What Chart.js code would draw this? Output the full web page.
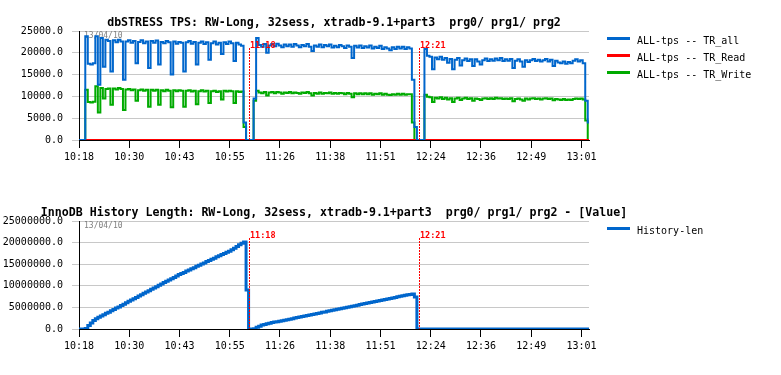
<!DOCTYPE html>
<html>
<head>
<meta charset="utf-8">
<script src="https://cdn.jsdelivr.net/npm/chart.js@4.4.1/dist/chart.umd.min.js"></script>
<style>
  body { margin: 0; background: #fff; }
  #wrap { position: relative; width: 781px; height: 375px; }
  canvas { position: absolute; left: 0; }
</style>
</head>
<body>
<div id="wrap">
  <canvas id="tps-chart" width="781" height="190" style="top:0"></canvas>
  <canvas id="hist-chart" width="781" height="185" style="top:190px"></canvas>
</div>
<script>
// x tick labels (time of day, idle periods cut out) and the sample index they sit on
const timeLabels = ['10:18', '10:30', '10:43', '10:55', '11:26', '11:38', '11:51', '12:24', '12:36', '12:49', '13:01'];
const tickIndex = [0, 20, 40, 60, 80, 100, 120, 140, 160, 180, 200];
const lastIndex = 203;

// red event markers (sample index)
const markerLabels = ['11:18', '12:21'];
const markerIndex = [67.8, 135.5];

const dateStamp = '13/04/10';

// ALL-tps -- TR_all
const tpsAll = [
    0, 0, 0, 23800, 17500, 17300, 17600, 23800, 12700, 23400,
    16800, 23000, 22700, 15700, 22900, 22400, 23000, 22600, 13800, 22600,
    22900, 22300, 22700, 17600, 22500, 22900, 22200, 22600, 16500, 22700,
    22300, 22800, 17300, 22500, 22200, 22700, 22400, 15000, 22600, 22100,
    22500, 22300, 15700, 22400, 22700, 22100, 22500, 17300, 22300, 22600,
    22000, 22400, 18400, 22200, 22600, 21900, 22300, 19700, 22400, 22000,
    22600, 22200, 18100, 22300, 21900, 21600, 4000, 0, 0, 0,
    9500, 23400, 21800, 21400, 22000, 20000, 21700, 22000, 21500, 22100,
    21700, 21300, 21900, 21500, 21900, 21400, 22000, 21700, 21300, 21800,
    21500, 22000, 21400, 20400, 21700, 21400, 21900, 21300, 21800, 21500,
    21900, 21200, 21600, 21300, 21800, 21500, 21100, 21700, 21400, 18800,
    21600, 21200, 21700, 21100, 21500, 21200, 21700, 21000, 21400, 21100,
    21600, 20900, 21300, 21000, 20600, 21300, 20900, 21400, 21000, 21400,
    20900, 21300, 21000, 13800, 3000, 0, 0, 0, 20900, 19300,
    19100, 16200, 18900, 18500, 19100, 18400, 18800, 17700, 18600, 16200,
    18400, 18800, 17100, 18300, 18700, 18100, 18500, 17000, 18500, 18000,
    17300, 18300, 18700, 18100, 18500, 18200, 18700, 18300, 18800, 18100,
    18500, 18200, 18600, 16500, 18200, 18500, 18000, 16800, 18300, 17900,
    18300, 18600, 18100, 18400, 18000, 18300, 18600, 18000, 18400, 17000,
    18200, 17800, 17600, 18000, 17500, 17900, 17600, 18200, 18500, 18000,
    18300, 17600, 9000, 4000
];

// ALL-tps -- TR_Read (stays at zero, hidden under TR_Write)
const tpsRead = [
    0, 0, 0, 0, 0, 0, 0, 0, 0, 0, 0, 0, 0, 0, 0, 0, 0, 0, 0, 0,
    0, 0, 0, 0, 0, 0, 0, 0, 0, 0, 0, 0, 0, 0, 0, 0, 0, 0, 0, 0,
    0, 0, 0, 0, 0, 0, 0, 0, 0, 0, 0, 0, 0, 0, 0, 0, 0, 0, 0, 0,
    0, 0, 0, 0, 0, 0, 0, 0, 0, 0, 0, 0, 0, 0, 0, 0, 0, 0, 0, 0,
    0, 0, 0, 0, 0, 0, 0, 0, 0, 0, 0, 0, 0, 0, 0, 0, 0, 0, 0, 0,
    0, 0, 0, 0, 0, 0, 0, 0, 0, 0, 0, 0, 0, 0, 0, 0, 0, 0, 0, 0,
    0, 0, 0, 0, 0, 0, 0, 0, 0, 0, 0, 0, 0, 0, 0, 0, 0, 0, 0, 0,
    0, 0, 0, 0, 0, 0, 0, 0, 0, 0, 0, 0, 0, 0, 0, 0, 0, 0, 0, 0,
    0, 0, 0, 0, 0, 0, 0, 0, 0, 0, 0, 0, 0, 0, 0, 0, 0, 0, 0, 0,
    0, 0, 0, 0, 0, 0, 0, 0, 0, 0, 0, 0, 0, 0, 0, 0, 0, 0, 0, 0,
    0, 0, 0, 0
];

// ALL-tps -- TR_Write
const tpsWrite = [
    0, 0, 0, 11500, 8700, 8600, 8800, 12300, 6300, 11900,
    9500, 11700, 11800, 8100, 11800, 11600, 11900, 11700, 6900, 11600,
    11700, 11400, 11600, 9000, 11400, 11600, 11300, 11500, 7600, 11500,
    11300, 11500, 8100, 11400, 11200, 11500, 11300, 7500, 11400, 11200,
    11400, 11300, 7600, 11300, 11400, 11100, 11300, 8200, 11200, 11400,
    11100, 11300, 8500, 11200, 11300, 11000, 11200, 9300, 11300, 11100,
    11300, 11200, 8500, 11200, 11000, 11100, 3000, 0, 0, 0,
    9000, 11300, 10900, 10700, 11000, 10200, 10900, 11000, 10700, 11000,
    10900, 10600, 10900, 10800, 11000, 10700, 10900, 10800, 10600, 10900,
    10800, 11000, 10700, 10200, 10800, 10600, 10900, 10600, 10800, 10700,
    10900, 10600, 10800, 10600, 10800, 10700, 10500, 10800, 10600, 9800,
    10700, 10500, 10700, 10500, 10700, 10500, 10700, 10400, 10600, 10500,
    10700, 10400, 10600, 10400, 10300, 10500, 10400, 10600, 10400, 10600,
    10400, 10500, 10500, 4000, 0, 0, 0, 0, 10400, 9900,
    9800, 8700, 9700, 9500, 9800, 9400, 9700, 9300, 9600, 8700,
    9500, 9700, 9200, 9500, 9700, 9400, 9600, 9000, 9500, 9400,
    9200, 9500, 9600, 9400, 9600, 9400, 9700, 9500, 9600, 9400,
    9500, 9400, 9600, 8900, 9400, 9500, 9300, 9000, 9500, 9300,
    9500, 9600, 9400, 9500, 9300, 9500, 9600, 9400, 9500, 9100,
    9400, 9300, 9200, 9400, 9200, 9300, 9200, 9400, 9500, 9400,
    9500, 9300, 4500, 0
];

// History-len
const historyLen = [
    0, 0, 0, 100000, 800000, 1400000, 1950000, 2400000, 2700000, 3000000,
    3300000, 3650000, 3900000, 4200000, 4500000, 4850000, 5100000, 5450000, 5750000, 6050000,
    6400000, 6700000, 7000000, 7300000, 7650000, 7950000, 8250000, 8550000, 8850000, 9200000,
    9500000, 9800000, 10100000, 10400000, 10750000, 11050000, 11350000, 11650000, 11950000, 12250000,
    12600000, 12850000, 13100000, 13400000, 13650000, 13950000, 14200000, 14500000, 14750000, 15050000,
    15300000, 15600000, 15850000, 16150000, 16400000, 16700000, 16950000, 17250000, 17500000, 17750000,
    18000000, 18350000, 18700000, 19100000, 19500000, 19850000, 20150000, 9000000, 0, 0,
    50000, 400000, 650000, 900000, 1050000, 1200000, 1350000, 1480000, 1600000, 1700000,
    1800000, 1920000, 2050000, 2160000, 2280000, 2400000, 2520000, 2650000, 2760000, 2880000,
    3000000, 3120000, 3250000, 3360000, 3480000, 3600000, 3720000, 3850000, 3960000, 4080000,
    4200000, 4320000, 4450000, 4560000, 4680000, 4800000, 4920000, 5050000, 5160000, 5280000,
    5400000, 5520000, 5650000, 5760000, 5880000, 6000000, 6120000, 6250000, 6360000, 6480000,
    6600000, 6720000, 6850000, 6960000, 7080000, 7200000, 7320000, 7450000, 7560000, 7680000,
    7800000, 7900000, 8000000, 8100000, 7400000, 0, 0, 0, 0, 0,
    0, 0, 0, 0, 0, 0, 0, 0, 0, 0, 0, 0, 0, 0, 0, 0, 0, 0, 0, 0,
    0, 0, 0, 0, 0, 0, 0, 0, 0, 0, 0, 0, 0, 0, 0, 0, 0, 0, 0, 0,
    0, 0, 0, 0, 0, 0, 0, 0, 0, 0, 0, 0, 0, 0, 0, 0, 0, 0, 0, 0,
    0, 0, 0, 0
];

const MONO = '"DejaVu Sans Mono", "Liberation Mono", monospace';

document.addEventListener('DOMContentLoaded', function () {

    // turn a flat value list into {x, y} points on the sample index
    function toPoints(values) {
        return values.map((v, i) => ({ x: i, y: v }));
    }

    // title, legend, date stamp and red markers, drawn the rrdtool way
    function decorPlugin(title) {
        return {
            id: 'decor',
            beforeDatasetsDraw(chart) {
                const ctx = chart.ctx;
                const area = chart.chartArea;
                ctx.save();
                ctx.font = '8px ' + MONO;
                ctx.fillStyle = '#808080';
                ctx.textBaseline = 'middle';
                ctx.textAlign = 'left';
                ctx.fillText(dateStamp, area.left + 5, area.top + 4.5);
                ctx.restore();
            },
            afterDatasetsDraw(chart) {
                const ctx = chart.ctx;
                const area = chart.chartArea;
                const xScale = chart.scales.x;
                ctx.save();

                // markers
                markerIndex.forEach((m, k) => {
                    const px = Math.round(xScale.getPixelForValue(m)) + 0.5;
                    ctx.strokeStyle = '#ff0000';
                    ctx.lineWidth = 1;
                    ctx.setLineDash([2, 1]);
                    ctx.beginPath();
                    ctx.moveTo(px, area.top + 17);
                    ctx.lineTo(px, area.bottom);
                    ctx.stroke();
                    ctx.setLineDash([]);
                    ctx.font = 'bold 8.5px ' + MONO;
                    ctx.fillStyle = '#ff0000';
                    ctx.textAlign = 'left';
                    ctx.textBaseline = 'middle';
                    ctx.fillText(markerLabels[k], px + 0.5, area.top + 14.5);
                });

                // title
                ctx.font = 'bold 11.6px ' + MONO;
                ctx.fillStyle = '#000';
                ctx.textAlign = 'center';
                ctx.textBaseline = 'middle';
                ctx.fillText(title, (area.left + area.right) / 2, 22.5);

                // legend
                chart.data.datasets.forEach((ds, k) => {
                    const y = area.top + 7.5 + k * 17;
                    ctx.strokeStyle = ds.borderColor;
                    ctx.lineWidth = 3;
                    ctx.beginPath();
                    ctx.moveTo(607, y);
                    ctx.lineTo(630, y);
                    ctx.stroke();
                    ctx.font = '10px ' + MONO;
                    ctx.fillStyle = '#000';
                    ctx.textAlign = 'left';
                    ctx.textBaseline = 'middle';
                    ctx.fillText(ds.label, 637, y + 3);
                });
                ctx.restore();
            }
        };
    }

    function makeOptions(yMax, yStep, xHeight) {
        return {
            responsive: false,
            devicePixelRatio: 1,
            animation: false,
            layout: { padding: { top: 31, right: 192, left: 0, bottom: 0 } },
            plugins: {
                legend: { display: false },
                title: { display: false },
                tooltip: { enabled: false }
            },
            elements: { point: { radius: 0 } },
            scales: {
                x: {
                    type: 'linear',
                    min: 0,
                    max: lastIndex,
                    afterBuildTicks: axis => { axis.ticks = tickIndex.map(v => ({ value: v })); },
                    afterFit: scale => { scale.height = xHeight; },
                    ticks: {
                        autoSkip: false,
                        maxRotation: 0,
                        padding: 3,
                        color: '#000',
                        font: { family: MONO, size: 10 },
                        callback: (v, i) => timeLabels[i]
                    },
                    grid: { drawOnChartArea: false, tickLength: 8, tickColor: '#000' },
                    border: { color: '#000', width: 1 }
                },
                y: {
                    min: 0,
                    max: yMax,
                    afterFit: scale => { scale.width = 79; },
                    ticks: {
                        stepSize: yStep,
                        padding: 9,
                        color: '#000',
                        font: { family: MONO, size: 10 },
                        callback: v => v.toFixed(1)
                    },
                    grid: { color: '#c8c8c8', tickLength: 7, tickColor: '#c8c8c8' },
                    border: { color: '#000', width: 1 }
                }
            }
        };
    }

    // top: dbSTRESS TPS
    new Chart(document.getElementById('tps-chart').getContext('2d'), {
        type: 'line',
        data: {
            datasets: [
                { label: 'ALL-tps -- TR_all', data: toPoints(tpsAll), borderColor: '#0066cc', borderWidth: 2, stepped: 'middle', fill: false },
                { label: 'ALL-tps -- TR_Read', data: toPoints(tpsRead), borderColor: '#ff0000', borderWidth: 2, stepped: 'middle', fill: false },
                { label: 'ALL-tps -- TR_Write', data: toPoints(tpsWrite), borderColor: '#00aa00', borderWidth: 2, stepped: 'middle', fill: false }
            ]
        },
        options: makeOptions(25000, 5000, 50),
        plugins: [decorPlugin('dbSTRESS TPS: RW-Long, 32sess, xtradb-9.1+part3  prg0/ prg1/ prg2')]
    });

    // bottom: InnoDB History Length
    new Chart(document.getElementById('hist-chart').getContext('2d'), {
        type: 'line',
        data: {
            datasets: [
                { label: 'History-len', data: toPoints(historyLen), borderColor: '#0066cc', borderWidth: 3, stepped: 'middle', fill: false }
            ]
        },
        options: makeOptions(25000000, 5000000, 46),
        plugins: [decorPlugin('InnoDB History Length: RW-Long, 32sess, xtradb-9.1+part3  prg0/ prg1/ prg2 - [Value]')]
    });
});
</script>
</body>
</html>
